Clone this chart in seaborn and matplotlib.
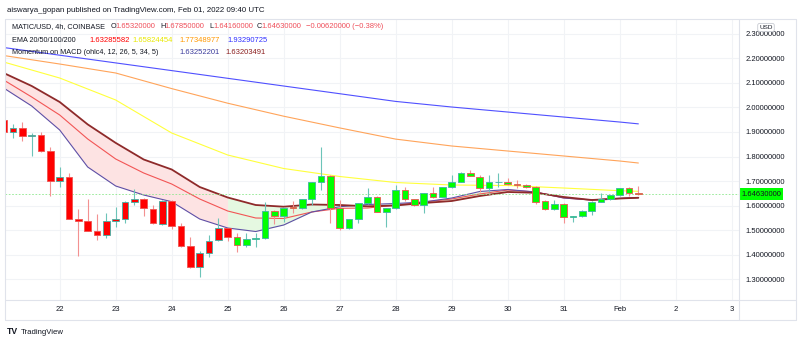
import numpy as np
import matplotlib
matplotlib.use("Agg")
import matplotlib.pyplot as plt
import seaborn as sns
from matplotlib.transforms import blended_transform_factory
from matplotlib.lines import Line2D

# ---------------- data (4h candles, Jan 21 00:00 .. Feb 1 08:00 UTC) ----------------
opens = [1.950, 1.898, 1.917, 1.882, 1.888, 1.821, 1.700, 1.717, 1.546, 1.537,
         1.497, 1.480, 1.539, 1.545, 1.615, 1.628, 1.587, 1.526, 1.619, 1.517,
         1.437, 1.351, 1.408, 1.460, 1.508, 1.473, 1.440, 1.465, 1.468, 1.579,
         1.559, 1.594, 1.590, 1.627, 1.695, 1.721, 1.589, 1.508, 1.545, 1.609,
         1.634, 1.575, 1.589, 1.664, 1.626, 1.603, 1.650, 1.636, 1.675, 1.697,
         1.734, 1.718, 1.670, 1.695, 1.697, 1.688, 1.686, 1.675, 1.620, 1.585,
         1.607, 1.554, 1.557, 1.579, 1.615, 1.626, 1.643, 1.670, 1.6532]
highs = [1.960, 1.932, 1.940, 1.894, 1.900, 1.839, 1.757, 1.733, 1.586, 1.626,
         1.565, 1.571, 1.596, 1.620, 1.669, 1.630, 1.604, 1.623, 1.621, 1.530,
         1.471, 1.414, 1.480, 1.548, 1.510, 1.487, 1.487, 1.490, 1.616, 1.581,
         1.594, 1.620, 1.628, 1.697, 1.840, 1.723, 1.623, 1.546, 1.611, 1.670,
         1.640, 1.592, 1.684, 1.677, 1.628, 1.652, 1.677, 1.677, 1.725, 1.736,
         1.745, 1.726, 1.725, 1.732, 1.711, 1.704, 1.690, 1.678, 1.622, 1.623,
         1.609, 1.558, 1.581, 1.617, 1.650, 1.645, 1.672, 1.675, 1.6785]
lows = [1.895, 1.875, 1.864, 1.803, 1.820, 1.639, 1.676, 1.544, 1.396, 1.495,
        1.460, 1.467, 1.512, 1.530, 1.601, 1.558, 1.526, 1.522, 1.506, 1.432,
        1.346, 1.309, 1.392, 1.457, 1.455, 1.412, 1.433, 1.430, 1.465, 1.525,
        1.535, 1.569, 1.588, 1.603, 1.664, 1.528, 1.501, 1.505, 1.528, 1.607,
        1.573, 1.514, 1.587, 1.620, 1.600, 1.569, 1.633, 1.634, 1.673, 1.695,
        1.719, 1.657, 1.657, 1.677, 1.685, 1.670, 1.670, 1.605, 1.583, 1.583,
        1.528, 1.535, 1.555, 1.562, 1.613, 1.624, 1.641, 1.640, 1.6416]
closes = [1.898, 1.917, 1.882, 1.886, 1.821, 1.700, 1.717, 1.544, 1.538, 1.497,
          1.480, 1.537, 1.545, 1.613, 1.628, 1.590, 1.529, 1.619, 1.517, 1.437,
          1.351, 1.406, 1.457, 1.508, 1.473, 1.440, 1.465, 1.468, 1.579, 1.559,
          1.592, 1.590, 1.626, 1.695, 1.721, 1.589, 1.508, 1.544, 1.609, 1.634,
          1.575, 1.589, 1.664, 1.626, 1.603, 1.650, 1.636, 1.675, 1.697, 1.734,
          1.721, 1.670, 1.697, 1.698, 1.688, 1.686, 1.676, 1.616, 1.585, 1.607,
          1.555, 1.557, 1.579, 1.615, 1.626, 1.643, 1.670, 1.653, 1.6463]
# momentum-on-MACD state per candle (0 = bearish red bar, 1 = bullish lime bar)
momentum_bull = [0] * 25 + [1] * 44

# indicator lines read at sampled candle indices
fast_idx = [0, 3, 6, 9, 12, 15, 18, 21, 24, 27, 30, 33, 36, 39, 42, 45, 48, 51,
            54, 57, 60, 63, 66, 68]
ema20 = [2.1115, 2.0423, 1.9690, 1.8713, 1.7898, 1.7328, 1.6880, 1.6270, 1.5781,
         1.5496, 1.5476, 1.5740, 1.5891, 1.5903, 1.6025, 1.6147, 1.6270, 1.6473,
         1.6636, 1.6555, 1.6310, 1.6229, 1.6290, 1.6329]
mom_line1 = [2.0789, 2.0056, 1.9079, 1.7572, 1.6799, 1.6432, 1.6160, 1.5455, 1.5089,
             1.4946, 1.5211, 1.5740, 1.5956, 1.6046, 1.6086, 1.6147, 1.6310, 1.6575,
             1.6656, 1.6555, 1.6310, 1.6229, 1.6298, 1.6325]
mom_line2 = [2.1400, 2.0871, 2.0219, 1.9307, 1.8554, 1.7878, 1.7471, 1.6758, 1.6331,
             1.6025, 1.5956, 1.6046, 1.6025, 1.5972, 1.6005, 1.6107, 1.6188, 1.6392,
             1.6555, 1.6522, 1.6351, 1.6229, 1.6290, 1.6320]
slow_idx = [0, 6, 12, 18, 24, 30, 36, 42, 48, 54, 60, 66, 68]
ema50 = [2.1848, 2.1196, 2.0301, 1.8957, 1.8061, 1.7511, 1.7186, 1.6941, 1.6840,
         1.6819, 1.6717, 1.6607, 1.6582]
ema100 = [2.2112, 2.1766, 2.1400, 2.0765, 2.0170, 1.9641, 1.9164, 1.8708, 1.8428,
          1.8224, 1.8021, 1.7817, 1.7735]
ema200 = [2.2438, 2.2125, 2.1811, 2.1498, 2.1184, 2.0870, 2.0557, 2.0243, 2.0015,
          1.9811, 1.9607, 1.9404, 1.9329]

day_labels = ["22", "23", "24", "25", "26", "27", "28", "29", "30", "31", "Feb", "2", "3"]
price_ticks = [1.3, 1.4, 1.5, 1.6, 1.7, 1.8, 1.9, 2.0, 2.1, 2.2, 2.3]
last_price = 1.6463

# ---------------- style ----------------
sns.set_theme(style="white")
plt.rcParams["font.family"] = ["Liberation Sans", "DejaVu Sans"]
TXT = "#131722"
FS = 5.5
FSL = 5.2

W, H = 800, 343
fig = plt.figure(figsize=(W / 100, H / 100), dpi=100)
fig.patch.set_facecolor("white")

def fx(px):
    return px / W

def fy(py):
    return 1 - py / H

ax = fig.add_axes([fx(5), fy(300), fx(735), (300 - 19) / H])
ax.set_facecolor("white")
for s in ax.spines.values():
    s.set_visible(False)

ax.set_xlim(0.139, 78.89)
ax.set_ylim(1.2157, 2.3599)

# grid
ax.set_yticks(price_ticks)
ax.set_yticklabels([f"{v:.8f}" for v in price_ticks])
ax.set_xticks([6 * (k + 1) for k in range(len(day_labels))])
ax.set_xticklabels(day_labels)
ax.grid(True, color="#f1f3f6", lw=0.8, zorder=0)
ax.yaxis.tick_right()
ax.tick_params(axis="y", length=0, pad=4.0, labelsize=FS, labelcolor=TXT)
ax.tick_params(axis="x", length=0, pad=4.6, labelsize=FS, labelcolor=TXT)

# momentum fill
n_red = fast_idx.index(24) + 1
ax.fill_between(fast_idx[:n_red], mom_line1[:n_red], mom_line2[:n_red],
                color="#fde3e3", lw=0, zorder=1)
ax.fill_between(fast_idx[n_red - 1:], mom_line1[n_red - 1:], mom_line2[n_red - 1:],
                color="#e5f8e1", lw=0, zorder=1)

# EMA + momentum lines (seaborn)
sns.lineplot(x=slow_idx, y=ema200, ax=ax, color="#5050ff", lw=0.8, zorder=2)
sns.lineplot(x=slow_idx, y=ema100, ax=ax, color="#ffa45a", lw=0.8, zorder=2)
sns.lineplot(x=slow_idx, y=ema50, ax=ax, color="#ffff3c", lw=0.8, zorder=2)
sns.lineplot(x=fast_idx, y=ema20, ax=ax, color="#f25555", lw=0.8, zorder=2)
sns.lineplot(x=fast_idx, y=mom_line1, ax=ax, color="#5e4fa6", lw=0.8, zorder=2)
sns.lineplot(x=fast_idx, y=mom_line2, ax=ax, color="#8e2a2a", lw=1.3, zorder=2)

# current price dashed line
ax.axhline(last_price, color="#8de88d", lw=0.6, ls=(0, (2, 2)), zorder=2.5)

# candles
idx = np.arange(len(opens))
o = np.array(opens); c = np.array(closes); h = np.array(highs); l = np.array(lows)
up = c >= o
wick_col = np.where(up, "#6cc4b8", "#f39191")
edge_col = np.where(up, "#3fb3a6", "#ef5350")
body_col = np.where(np.array(momentum_bull) == 1, "#00ff00", "#ff0000")
ax.vlines(idx, l, h, colors=wick_col, lw=0.8, zorder=3)
bottoms = np.minimum(o, c)
heights = np.maximum(np.abs(c - o), 0.002)
ax.bar(idx, heights, bottom=bottoms, width=0.74, color=body_col,
       edgecolor=edge_col, linewidth=0.6, zorder=4)

ax.set_xlabel("")
ax.set_ylabel("")

# last price label on price scale
tr = blended_transform_factory(ax.transAxes, ax.transData)
ax.text((741 - 5) / 735, last_price, f"{last_price:.8f}", transform=tr, ha="left",
        va="center", fontsize=FS, color=TXT, clip_on=False, zorder=10,
        bbox=dict(boxstyle="square,pad=0.3", fc="#00ff00", ec="none"))

# frame lines
fc = "#e0e3eb"
for (x1, y1, x2, y2) in [(5, 19, 796, 19), (5, 320, 796, 320), (5, 19, 5, 320),
                         (796, 19, 796, 320), (5, 300, 796, 300), (739, 19, 739, 320)]:
    fig.add_artist(Line2D([fx(x1), fx(x2)], [fy(y1), fy(y2)], color=fc, lw=0.8,
                          transform=fig.transFigure, zorder=5))

# USD badge
fig.text(fx(766), fy(27.5), "USD", fontsize=4.6, color=TXT, ha="center", va="center",
         bbox=dict(boxstyle="round,pad=0.25,rounding_size=0.3", fc="white", ec="#c8cbd2", lw=0.6),
         zorder=11)

# header
fig.text(fx(7), fy(10), "aiswarya_gopan published on TradingView.com, Feb 01, 2022 09:40 UTC",
         fontsize=5.7, color=TXT, ha="left", va="center")

RED = "#ef4f5a"
pieces = [
    (12, 27, "MATIC/USD, 4h, COINBASE", TXT),
    (111, 27, "O", TXT), (115.5, 27, "1.65320000", RED),
    (160, 27, "H", TXT), (164.5, 27, "1.67850000", RED),
    (209, 27, "L", TXT), (213, 27, "1.64160000", RED),
    (257, 27, "C", TXT), (261.5, 27, "1.64630000", RED),
    (306, 27, "\u22120.00620000 (\u22120.38%)", RED),
    (12, 40, "EMA 20/50/100/200", TXT),
    (89, 40, "1.63285582", "#ff0000"), (132, 40, "1.65824454", "#e8e800"),
    (179, 40, "1.77348977", "#ff9800"), (227, 40, "1.93290725", "#2f2fff"),
    (12, 52, "Momentum on MACD (ohlc4, 12, 26, 5, 34, 5)", TXT),
    (179, 52, "1.63252201", "#3b3b9c"), (225, 52, "1.63203491", "#8b1f1f"),
]
for x, y, s, col in pieces:
    size = FS if s[0].isdigit() or s[0] == "\u2212" else FSL
    fig.text(fx(x), fy(y), s, fontsize=size, color=col, ha="left", va="center", zorder=12)

# footer logo
fig.text(fx(7), fy(332), "TV", fontsize=6.2, fontweight="heavy", color=TXT,
         ha="left", va="center")
fig.text(fx(21), fy(332), "TradingView", fontsize=5.6, color=TXT, ha="left", va="center")

fig.savefig("out.png", dpi=100, facecolor="white")
